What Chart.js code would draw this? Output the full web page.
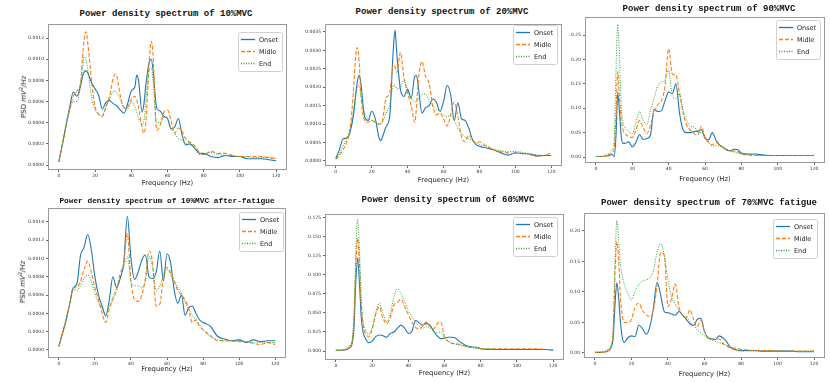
<!DOCTYPE html>
<html>
<head>
<meta charset="utf-8">
<script src="https://cdn.jsdelivr.net/npm/chart.js@4.4.0/dist/chart.umd.min.js"></script>
<style>
  body { margin: 0; width: 830px; height: 383px; background: #fff; position: relative; overflow: hidden; }
  canvas { position: absolute; }
  .head { position: absolute; transform: translate(-50%, -50%); white-space: nowrap; color: #111;
          font-family: "Liberation Mono", monospace; font-weight: bold; }
  .ylab { position: absolute; transform: translate(-50%, -50%) rotate(-90deg); white-space: nowrap; color: #222;
          font-family: "DejaVu Sans", sans-serif; font-size: 7px; }
  .ylab sup { font-size: 5px; }
</style>
</head>
<body>
<script>
// frequency grids (Hz), one per panel
const freq1 = [0,2,4,6,8,10,12,13,14,15,16,18,20,22,24,26,28,30,31,32,34,36,38,40,42,43,44,46,47,48,50,51,52,54,56,58,60,62,64,66,68,70,72,74,76,78,80,84,88,92,96,100,104,108,112,116,120];
const freq2 = [0,2,4,6,8,10,11,12,13,14,16,18,20,22,24,25,26,28,30,32,33,34,36,38,40,42,44,45,46,48,50,52,54,56,58,60,62,64,66,68,70,72,74,76,78,80,84,88,92,96,100,104,108,112,116,120];
const freq3 = [0,2,4,6,8,9,10,11,12,13,14,15,16,18,20,22,24,26,28,30,32,34,36,38,40,42,44,46,48,50,52,54,56,58,60,62,64,66,68,70,72,74,76,78,80,84,88,92,96,100,104,108,112,116,120];
const freq4 = [0,2,4,6,8,10,12,14,16,18,20,22,24,26,28,30,32,34,36,38,40,42,44,46,48,50,52,54,56,58,60,62,64,66,68,70,72,74,76,78,80,84,88,92,96,100,104,108,112,116,120];
const xTicks = [0, 20, 40, 60, 80, 100, 120];

// 10%MVC (x 1e-4)
const onset1 = [0.3,2.0,3.8,5.5,6.9,6.5, 7.5,8.3,8.8,8.9,8.7, 7.8,7.2,6.6,5.3,5.9,6.1,5.8, 5.7, 5.6,5.2,4.9,5.8,7.0,7.4, 8.5, 8.0,5.0, 5.8, 7.5,9.8, 10.0, 9.0,5.4,5.1,4.6,4.4,3.4,3.6,4.4,2.9,1.9,2.0,1.8,1.4,1.1,1.1, 0.8,0.7,0.9,0.8,0.8,0.6,0.6,0.6,0.5,0.4];
const midle1 = [0.3,2.0,3.7,5.3,6.5,7.0, 7.8,10.0,12.0,12.6,11.5, 8.0,5.5,4.8,4.6,5.5,6.5,8.2, 8.6, 8.4,6.5,5.4,5.5,6.2,6.5, 6.2, 5.5,3.5, 3.0, 4.0,10.0, 11.7, 10.5,3.3,3.8,5.0,5.2,4.2,3.0,3.5,3.2,2.5,2.2,2.0,1.6,1.1,1.0, 1.3,1.1,1.1,0.9,0.8,0.8,0.8,0.8,0.7,0.6];
const end1 = [0.3,2.0,3.7,5.2,6.0,6.0, 7.5,9.0,10.2,10.0,9.0, 6.5,5.2,4.8,4.7,5.5,6.2,7.0, 7.0, 6.8,6.2,5.4,5.3,6.0,5.5, 5.0, 4.5,3.8, 4.2, 6.0,9.0, 9.2, 8.0,4.0,4.0,4.5,4.4,3.5,3.0,2.5,2.4,2.0,2.2,1.8,1.3,1.0,1.0, 1.2,1.0,0.9,0.9,0.8,0.8,0.7,0.7,0.7,0.6];

// 20%MVC (x 1e-4)
const onset2 = [0.8,3.0,6.0,6.2,8.0,13.0, 17.5,21.5,23.3,21.0, 12.0,11.0,13.5,11.5,6.5, 5.5, 6.5,9.3,12.0,30.0, 35.5, 29.0,19.5,17.5,19.5,17.0,23.0, 23.2, 20.0,13.0,14.5,15.0,16.8,16.0,13.5,16.0,20.5,18.0,11.0,15.8,11.5,11.0,9.0,6.0,4.5,4.0, 3.5,3.0,2.2,1.6,2.2,2.0,1.9,1.4,1.5,1.5];
const midle2 = [0.5,1.5,3.0,5.0,9.0,20.0, 28.0,30.8,27.0,18.0, 11.0,10.5,11.0,10.5,10.0, 10.2, 11.0,17.0,18.3,26.0, 25.5, 24.0,29.5,22.5,18.5,15.0,10.5, 15.0, 22.0,27.0,23.0,21.0,15.0,12.5,13.0,11.5,9.5,12.5,16.0,12.0,6.6,5.2,7.0,6.0,4.8,5.2, 4.0,3.0,2.5,2.2,2.0,2.1,1.7,1.3,1.5,2.2];
const end2 = [0.5,2.0,4.0,6.0,8.5,14.0, 17.5,20.0,20.5,18.0, 13.0,11.5,11.0,10.5,10.0, 10.0, 10.5,13.0,15.0,20.5, 20.5, 19.5,20.0,22.0,19.0,17.0,16.0, 16.5, 17.0,18.0,18.2,16.5,15.0,14.0,13.5,12.5,12.0,12.5,11.0,9.0,7.5,6.5,6.0,5.5,5.0,4.5, 4.0,3.2,2.8,2.5,2.6,2.3,2.0,1.7,1.5,1.5];

// 90%MVC (x 1e-2)
const onset3 = [0.1,0.1,0.1,0.2,0.4, 0.5,0.1,4.0,13.2,9.0,4.0,2.8,2.8, 3.1,2.1,3.0,4.6,3.6,3.8,4.5,9.8,9.3,9.5,11.5,13.3,13.0,15.0,9.0,5.5,5.0,5.0,5.2,5.3,5.6,3.8,3.5,5.0,3.5,2.5,2.0,1.4,1.3,1.6,1.5,0.8, 0.6,0.6,0.4,0.3,0.3,0.3,0.3,0.3,0.3,0.3];
const midle3 = [0.1,0.1,0.1,0.3,0.6, 0.9,1.5,8.0,17.5,12.0,7.5,5.5,4.8, 4.2,4.0,5.5,7.5,6.0,4.8,6.5,9.0,10.7,11.5,14.5,22.2,17.0,16.8,13.0,9.0,6.5,5.5,4.8,4.5,6.3,4.0,3.0,2.5,3.0,2.5,2.0,1.5,1.3,1.2,1.1,0.6, 0.4,0.3,0.3,0.3,0.3,0.3,0.3,0.3,0.3,0.3];
const end3 = [0.1,0.1,0.2,0.5,1.0, 1.5,3.0,17.0,27.2,20.0,10.0,7.0,6.0, 5.2,4.8,7.0,9.3,7.5,6.6,9.5,12.0,14.5,15.3,15.8,17.8,12.5,12.0,13.0,9.5,7.5,6.2,6.2,5.0,5.0,4.3,3.0,2.2,2.4,2.2,1.8,1.6,1.2,1.0,0.8,0.6, 0.5,0.4,0.3,0.3,0.3,0.3,0.3,0.3,0.3,0.3];

// 10%MVC after-fatigue (x 1e-4)
const onset4 = [0.4,1.8,3.2,5.0,6.8,7.2,10.3,11.2,12.6,11.0, 8.0,6.0,4.8,3.7,5.5,8.0,6.8,7.8,9.5,14.6, 10.0,7.7,8.5,9.8,10.4,8.0,7.8,8.5,10.8,7.5, 10.5,9.5,6.5,5.1,6.0,3.8,4.6,4.8,4.0,3.3, 3.0, 2.6,1.5,1.2,1.0,1.1,0.8,1.1,0.9,1.0,1.0];
const midle4 = [0.4,1.8,3.3,5.0,6.8,6.8,7.5,8.8,9.7,8.5, 6.8,5.5,4.0,3.0,4.5,5.5,6.5,8.3,9.5,12.7, 7.5,5.5,5.3,6.0,7.8,10.8,9.5,4.8,5.0,8.0, 9.0,8.5,7.5,6.5,6.0,5.5,4.5,3.0,3.3,2.6, 2.2, 1.6,1.0,1.0,1.0,0.9,0.9,0.7,0.6,0.8,0.6];
const end4 = [0.4,1.8,3.3,5.0,6.6,6.5,7.0,7.8,8.2,7.5, 6.2,5.2,4.5,4.0,4.8,5.8,6.8,7.8,9.0,10.2, 7.5,7.0,7.0,6.8,7.5,10.2,9.0,6.5,7.0,8.0, 8.8,8.2,7.5,6.8,6.2,5.2,4.5,3.8,3.2,2.8, 2.2, 1.5,1.1,1.0,1.0,1.0,0.9,0.8,0.8,0.8,0.8];

// 60%MVC (x 1e-2)
const onset5 = [0.1,0.1,0.1,0.2,0.5, 1.0,3.0,9.0,12.2,9.0,4.5,2.5,1.8, 1.1,1.3,1.9,2.1,2.0,1.8,2.3,2.5,3.0,3.4,3.0,2.3,2.6,4.0,3.7,3.4,3.6,3.4,2.6,2.0,1.6,1.7,1.8,1.8,1.7,1.3,1.0,0.7,0.6,0.5,0.5,0.3, 0.2,0.2,0.2,0.2,0.2,0.2,0.2,0.2,0.2,0.1];
const midle5 = [0.1,0.1,0.1,0.3,0.6, 1.2,4.0,11.0,14.8,11.5,6.0,3.5,2.5, 1.9,2.8,4.8,5.8,4.3,3.6,4.3,6.0,6.4,6.8,5.8,4.8,3.8,3.1,2.9,3.3,3.8,3.2,2.9,3.6,3.8,1.8,1.3,1.0,1.0,0.9,0.8,0.6,0.5,0.5,0.4,0.3, 0.3,0.3,0.3,0.3,0.3,0.3,0.3,0.3,0.2,0.2];
const end5 = [0.1,0.1,0.2,0.4,0.8, 1.5,5.0,13.0,17.3,13.5,7.0,4.0,3.0, 2.2,3.0,5.0,6.3,5.0,3.8,4.8,7.0,8.2,7.5,6.5,5.3,4.5,3.8,3.3,3.0,3.2,3.0,2.6,2.4,2.5,1.8,1.3,1.0,0.9,0.8,0.7,0.6,0.5,0.4,0.3,0.3, 0.3,0.2,0.2,0.2,0.2,0.2,0.2,0.2,0.2,0.2];

// 70%MVC fatigue (x 1e-2)
const onset6 = [0.1,0.1,0.1,0.2,0.5, 1.0,2.5,8.0,11.5,9.0,5.0,2.5,1.7, 2.5,2.8,2.7,4.6,4.0,3.1,4.2,7.3,11.6,9.5,6.8,6.6,6.4,6.2,6.8,6.2,5.5,4.8,4.5,5.5,5.7,3.5,2.5,2.3,2.2,2.8,2.5,1.9,1.0,0.6,0.5,0.4, 0.4,0.4,0.3,0.3,0.3,0.3,0.3,0.2,0.2,0.2];
const midle6 = [0.1,0.1,0.1,0.2,0.6, 1.2,3.5,13.0,18.2,15.0,9.0,6.0,5.0, 5.0,5.5,7.5,8.2,7.0,6.2,6.0,7.0,11.0,16.5,16.0,7.6,9.0,11.3,7.5,6.2,5.8,7.1,5.5,4.3,5.4,3.5,2.5,2.3,2.3,2.3,1.6,1.2,0.9,0.8,0.8,0.6, 0.5,0.4,0.4,0.4,0.3,0.3,0.3,0.3,0.3,0.3];
const end6 = [0.1,0.1,0.2,0.4,0.8, 1.5,4.0,15.0,21.7,18.5,14.5,12.5,11.3, 9.8,8.7,10.2,11.2,11.8,12.0,12.3,13.5,16.5,17.9,16.0,12.0,9.2,8.0,7.0,6.2,5.8,5.2,4.5,3.8,3.3,2.8,2.4,2.1,1.9,1.7,1.5,1.3,0.9,0.6,0.4,0.3, 0.3,0.3,0.3,0.3,0.3,0.3,0.3,0.3,0.3,0.3];

// y tick values (real units)
const yTicks1 = [0, 0.0002, 0.0004, 0.0006, 0.0008, 0.0010, 0.0012];
const yTicks2 = [0, 0.0005, 0.0010, 0.0015, 0.0020, 0.0025, 0.0030, 0.0035];
const yTicks3 = [0, 0.05, 0.10, 0.15, 0.20, 0.25];
const yTicks4 = [0, 0.0002, 0.0004, 0.0006, 0.0008, 0.0010, 0.0012, 0.0014];
const yTicks5 = [0, 0.025, 0.050, 0.075, 0.100, 0.125, 0.150, 0.175];
const yTicks6 = [0, 0.05, 0.10, 0.15, 0.20];

const seriesNames = ["Onset", "Midle", "End"];
const seriesColors = ["#1f77b4", "#ff7f0e", "#2ca02c"];
const seriesDash = [[], [4, 2], [1, 1.5]];

// box = [left, top, right, bottom] of the plot frame on the page
const panels = [
  { title: "Power density spectrum of 10%MVC", freq: freq1, series: [onset1, midle1, end1], unit: 1e-4,
    yMin: -0.47e-4, yMax: 13.33e-4, yTicks: yTicks1, dec: 4, box: [48, 24, 287, 170], xh: 17,
    leg: [5, 8], head: [166, 14, 9], ylab: [23, 97] },
  { title: "Power density spectrum of 20%MVC", freq: freq2, series: [onset2, midle2, end2], unit: 1e-4,
    yMin: -1.36e-4, yMax: 37.17e-4, yTicks: yTicks2, dec: 4, box: [325, 24, 562, 166], xh: 18,
    leg: [5, 1], head: [442, 12, 9] },
  { title: "Power density spectrum of 90%MVC", freq: freq3, series: [onset3, midle3, end3], unit: 1e-2,
    yMin: -1.23e-2, yMax: 28.7e-2, yTicks: yTicks3, dec: 2, box: [585, 17, 825, 163], xh: 20,
    leg: [5, 3], head: [709, 9, 9] },
  { title: "Power density spectrum of 10%MVC after-fatigue", freq: freq4, series: [onset4, midle4, end4], unit: 1e-4,
    yMin: -0.875e-4, yMax: 15.5e-4, yTicks: yTicks4, dec: 4, box: [48, 208, 286, 358], xh: 15,
    leg: [3, 4], head: [167, 201, 7.8], ylab: [22, 282] },
  { title: "Power density spectrum of 60%MVC", freq: freq3, series: [onset5, midle5, end5], unit: 1e-2,
    yMin: -1.18e-2, yMax: 18.0e-2, yTicks: yTicks5, dec: 3, box: [325, 214, 564, 360], xh: 17,
    leg: [7, 3], head: [448, 200, 9] },
  { title: "Power density spectrum of 70%MVC fatigue", freq: freq3, series: [onset6, midle6, end6], unit: 1e-2,
    yMin: -0.82e-2, yMax: 22.95e-2, yTicks: yTicks6, dec: 2, box: [584, 213, 825, 358], xh: 20,
    leg: [8, 6], head: [709, 203, 9] },
];

panels.forEach(function (p) {
  p.series.forEach(function (s, i) {
    if (s.length !== p.freq.length) {
      throw new Error(p.title + " / " + seriesNames[i] + ": " + s.length + " values, expected " + p.freq.length);
    }
  });
});

Chart.defaults.font.family = "DejaVu Sans";
Chart.defaults.color = "#333";

// full frame plus a matplotlib-like legend inside the top right corner
const frameLegend = {
  id: "frameLegend",
  afterDraw(chart, args, opts) {
    const { ctx, chartArea: a } = chart;
    ctx.save();
    ctx.strokeStyle = "#9a9a9a";
    ctx.lineWidth = 1;
    ctx.strokeRect(a.left + 0.5, a.top + 0.5, a.right - a.left - 1, a.bottom - a.top - 1);

    const w = 44, h = 39;
    const x = a.right - opts.dx - w, y = a.top + opts.dy;
    ctx.fillStyle = "rgba(255,255,255,0.85)";
    ctx.strokeStyle = "#d0d0d0";
    ctx.beginPath();
    ctx.roundRect(x + 0.5, y + 0.5, w, h, 2);
    ctx.fill();
    ctx.stroke();
    chart.data.datasets.forEach(function (ds, i) {
      const cy = y + 7.5 + i * 12;
      ctx.strokeStyle = ds.borderColor;
      ctx.lineWidth = 1.3;
      ctx.setLineDash(ds.borderDash);
      ctx.beginPath();
      ctx.moveTo(x + 3, cy);
      ctx.lineTo(x + 17, cy);
      ctx.stroke();
      ctx.setLineDash([]);
      ctx.fillStyle = "#222";
      ctx.font = '6.5px "DejaVu Sans"';
      ctx.textBaseline = "middle";
      ctx.fillText(ds.label, x + 21, cy + 0.5);
    });
    ctx.restore();
  },
};

const YW = 36, PADTOP = 5;

panels.forEach(function (p) {
  const [L, T, R, B] = p.box;
  const cv = document.createElement("canvas");
  const w = YW + (R - L) + 1, h = (B - T) + PADTOP + p.xh;
  cv.width = w;
  cv.height = h;
  cv.style.left = (L - YW) + "px";
  cv.style.top = (T - PADTOP) + "px";
  cv.style.width = w + "px";
  cv.style.height = h + "px";
  document.body.appendChild(cv);

  const head = document.createElement("div");
  head.className = "head";
  head.textContent = p.title;
  head.style.left = p.head[0] + "px";
  head.style.top = p.head[1] + "px";
  head.style.fontSize = p.head[2] + "px";
  document.body.appendChild(head);

  if (p.ylab) {
    const yl = document.createElement("div");
    yl.className = "ylab";
    yl.innerHTML = "PSD <i>mV</i><sup>2</sup><i>/Hz</i>";
    yl.style.left = p.ylab[0] + "px";
    yl.style.top = p.ylab[1] + "px";
    document.body.appendChild(yl);
  }

  new Chart(cv, {
    type: "line",
    data: {
      datasets: p.series.map(function (s, i) {
        return {
          label: seriesNames[i],
          data: p.freq.map(function (f, j) { return { x: f, y: s[j] * p.unit }; }),
          borderColor: seriesColors[i],
          borderDash: seriesDash[i],
          borderWidth: i === 2 ? 1 : 1.1,
          pointRadius: 0,
          cubicInterpolationMode: "monotone",
          order: 3 - i,
        };
      }),
    },
    options: {
      responsive: false,
      animation: false,
      events: [],
      layout: { padding: { top: PADTOP, right: 1, left: 0, bottom: 0 } },
      plugins: { legend: { display: false }, tooltip: { enabled: false }, frameLegend: { dx: p.leg[0], dy: p.leg[1] } },
      scales: {
        x: {
          type: "linear",
          min: -6,
          max: 126,
          afterBuildTicks: function (s) { s.ticks = xTicks.map(function (v) { return { value: v }; }); },
          afterFit: function (s) { s.height = p.xh; },
          ticks: { font: { size: 4.5 }, padding: 1, maxRotation: 0, autoSkip: false, color: "#333",
                   callback: function (v) { return String(v); } },
          grid: { display: true, drawOnChartArea: false, drawTicks: true, tickLength: 2, color: "#666" },
          border: { display: false },
          title: { display: true, text: "Frequency (Hz)", font: { size: 6.8 }, color: "#222", padding: 0 },
        },
        y: {
          min: p.yMin,
          max: p.yMax,
          afterBuildTicks: function (s) { s.ticks = p.yTicks.map(function (v) { return { value: v }; }); },
          afterFit: function (s) { s.width = YW; },
          ticks: { font: { size: 4.5 }, padding: 2, autoSkip: false, color: "#333",
                   callback: function (v) { return v.toFixed(p.dec); } },
          grid: { display: true, drawOnChartArea: false, drawTicks: true, tickLength: 2, color: "#666" },
          border: { display: false },
        },
      },
    },
    plugins: [frameLegend],
  });
});
</script>
</body>
</html>
